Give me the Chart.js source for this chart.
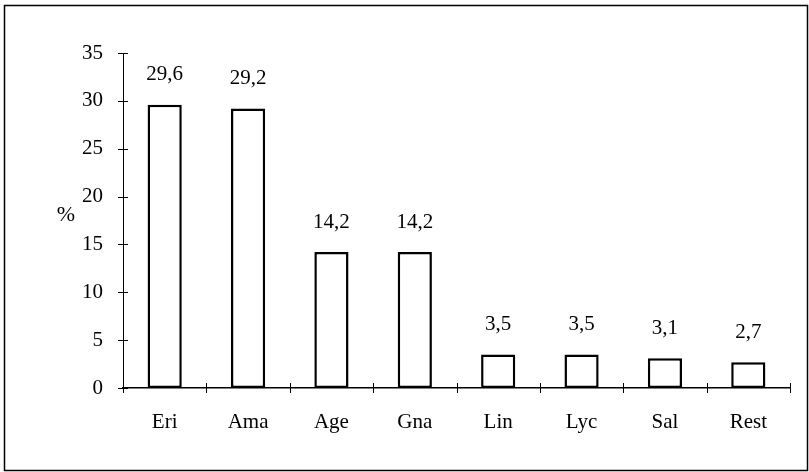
<!DOCTYPE html>
<html>
<head>
<meta charset="utf-8">
<script src="https://cdn.jsdelivr.net/npm/chart.js@4/dist/chart.umd.min.js"></script>
<style>
  html, body { margin: 0; padding: 0; background: #fff; }
  #wrap { width: 809px; height: 472px; }
</style>
</head>
<body>
<div id="wrap"><canvas id="chart" width="809" height="472"></canvas></div>
<script>
const categories = ['Eri', 'Ama', 'Age', 'Gna', 'Lin', 'Lyc', 'Sal', 'Rest'];
const shares = [29.6, 29.2, 14.2, 14.2, 3.5, 3.5, 3.1, 2.7];
const yTicks = [0, 5, 10, 15, 20, 25, 30, 35];

const FONT = '"Liberation Serif", "DejaVu Serif", serif';

// frame, crossing tick marks, value labels and the % title
const extras = {
    id: 'extras',
    afterDraw(chart) {
        const { ctx, scales: { x, y } } = chart;
        ctx.save();

        // outer frame
        ctx.strokeStyle = '#000';
        ctx.lineWidth = 1.5;
        ctx.strokeRect(4.5, 5.5, 803, 465);

        ctx.lineWidth = 1;
        const y0 = y.getPixelForValue(0);
        const axX = x.left;

        // y ticks crossing the axis
        yTicks.forEach(v => {
            const py = Math.round(y.getPixelForValue(v)) + 0.5;
            ctx.beginPath();
            ctx.moveTo(axX - 5, py);
            ctx.lineTo(axX + 5, py);
            ctx.stroke();
        });

        // x ticks between categories
        const step = x.getPixelForValue(1) - x.getPixelForValue(0);
        for (let i = 0; i <= categories.length; i++) {
            const px = Math.round(x.getPixelForValue(0) - step / 2 + i * step) + 0.5;
            ctx.beginPath();
            ctx.moveTo(px, y0 - 5);
            ctx.lineTo(px, y0 + 5);
            ctx.stroke();
        }

        // value labels
        ctx.fillStyle = '#000';
        ctx.font = '21px ' + FONT;
        ctx.textAlign = 'center';
        ctx.textBaseline = 'middle';
        const meta = chart.getDatasetMeta(0);
        meta.data.forEach((bar, i) => {
            ctx.fillText(String(shares[i]).replace('.', ','), bar.x, bar.y - 30);
        });

        // axis title
        ctx.font = '22px ' + FONT;
        ctx.fillText('%', 66, 215);
        ctx.restore();
    }
};

new Chart(document.getElementById('chart'), {
    type: 'bar',
    data: {
        labels: categories,
        datasets: [{
            data: shares,
            backgroundColor: '#fff',
            borderColor: '#000',
            borderWidth: 2.5,
            borderSkipped: false,
            categoryPercentage: 1,
            barPercentage: 0.41
        }]
    },
    options: {
        responsive: false,
        animation: false,
        devicePixelRatio: 1,
        layout: { padding: { left: 0, top: 53, right: 19, bottom: 0 } },
        plugins: {
            legend: { display: false },
            tooltip: { enabled: false }
        },
        scales: {
            x: {
                afterFit: s => { s.height = 84; },
                grid: { display: false },
                border: { display: true, color: '#000', width: 1.5 },
                ticks: {
                    color: '#000',
                    padding: 14,
                    font: { family: FONT, size: 21 }
                }
            },
            y: {
                min: 0,
                max: 35,
                afterFit: s => { s.width = 123; },
                afterBuildTicks: s => { s.ticks = yTicks.map(v => ({ value: v })); },
                grid: { display: false },
                border: { display: true, color: '#000', width: 1 },
                ticks: {
                    color: '#000',
                    padding: 12,
                    font: { family: FONT, size: 21 }
                }
            }
        }
    },
    plugins: [extras]
});
</script>
</body>
</html>
